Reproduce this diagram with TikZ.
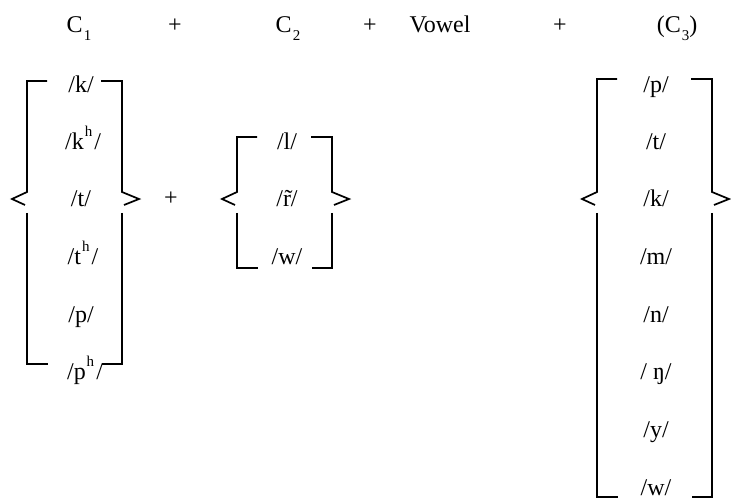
\documentclass[tikz,border=0pt]{standalone}
\usepackage{fontspec}
\setmainfont{Liberation Serif}
\newcommand\mysub[1]{\kern1pt\raisebox{-0.7ex}{\fontsize{15}{15}\selectfont #1}}
\newcommand\mysup[1]{\kern1pt\raisebox{1.2ex}{\fontsize{15}{15}\selectfont #1}\kern2pt}
\newcommand\mybrack[5]{% xl, xr, top, bottom, mid
  \draw[brk] (#1+20,#3) -- (#1,#3) -- (#1,#5-7) -- (#1-15,#5) -- (#1-2,#5+6);
  \draw[brk] (#1,#5+14) -- (#1,#4) -- (#1+21,#4);
  \draw[brk] (#2-21,#3) -- (#2,#3) -- (#2,#5-7) -- (#2+17,#5) -- (#2+2,#5+6);
  \draw[brk] (#2,#5+14) -- (#2,#4) -- (#2-20,#4);
}
\begin{document}
\begin{tikzpicture}[x=1pt,y=-1pt,
  lab/.style={font=\fontsize{24}{28}\selectfont, inner sep=0pt, anchor=base},
  brk/.style={line width=1.7pt, line cap=butt, line join=miter}]
\useasboundingbox (0,0) rectangle (731,502);
% header
\node[lab] (h1) at (79,33) {C\mysub{1}};
\node[lab] (p1) at (175,33) {+};
\node[lab] (h2) at (288,33) {C\mysub{2}};
\node[lab] (p2) at (370,33) {+};
\node[lab] (h3) at (440,33) {Vowel};
\node[lab] (p3) at (560,33) {+};
\node[lab] (h4) at (677,33) {(C\mysub{3})};
% C1 column
\mybrack{27}{122}{81}{364}{199}
\node[lab] (a1) at (81,93) {/k/};
\node[lab] (a2) at (83,150) {/k\mysup{h}/};
\node[lab] (a3) at (81,207) {/t/};
\node[lab] (a4) at (83,265) {/t\mysup{h}/};
\node[lab] (a5) at (81,323) {/p/};
\node[lab] (a6) at (85,380) {/p\mysup{h}/};
\node[lab] (pm) at (171,206) {+};
% C2 column
\mybrack{237}{332}{137}{268}{199}
\node[lab] (b1) at (287,150) {/l/};
\node[lab] (b2) at (287,207) {/\~{r}/};
\node[lab] (b3) at (287,265) {/w/};
% C3 column
\mybrack{597}{712}{79}{497}{199}
\node[lab] (c1) at (656,93) {/p/};
\node[lab] (c2) at (656,150) {/t/};
\node[lab] (c3) at (656,207) {/k/};
\node[lab] (c4) at (656,265) {/m/};
\node[lab] (c5) at (656,323) {/n/};
\node[lab] (c6) at (656,380) {/ ŋ/};
\node[lab] (c7) at (656,438) {/y/};
\node[lab] (c8) at (656,495) {/w/};
\end{tikzpicture}
\end{document}
